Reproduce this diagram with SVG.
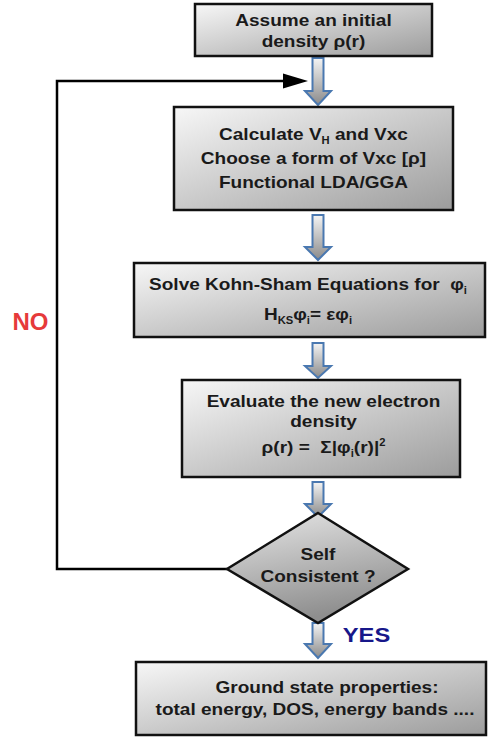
<svg xmlns="http://www.w3.org/2000/svg" width="488" height="738" viewBox="0 0 488 738">
<defs>
<linearGradient id="boxg" x1="0" y1="0" x2="1" y2="1">
<stop offset="0" stop-color="#f7f7f7"/>
<stop offset="1" stop-color="#9c9c9c"/>
</linearGradient>
<linearGradient id="diag" x1="0" y1="0" x2="0.3" y2="1">
<stop offset="0" stop-color="#e6e6e6"/>
<stop offset="1" stop-color="#8e8e8e"/>
</linearGradient>
<linearGradient id="arrg" x1="0" y1="0" x2="0" y2="1">
<stop offset="0" stop-color="#f4f4f4"/>
<stop offset="1" stop-color="#8a8a8a"/>
</linearGradient>
</defs>
<style>
.box{fill:url(#boxg);stroke:#111;stroke-width:2.5}
.dia{fill:url(#diag);stroke:#111;stroke-width:2.5}
.blk{fill:url(#arrg);stroke:#4a78b0;stroke-width:2}
.t{font-family:"Liberation Sans",Arial,sans-serif;font-weight:bold;font-size:17px;fill:#1a1a1a;text-anchor:middle}
.sub{font-size:10px}
.lbl{font-family:"Liberation Sans",Arial,sans-serif;font-weight:bold}
.line{fill:none;stroke:#000;stroke-width:2.5}
</style>

<g id="connectors">
<path class="blk" d="M312.5 58 H323.5 V91 H331 L318 105 L305 91 H312.5 Z"/>
<path class="blk" d="M312.5 215 H323.5 V247 H331 L318 260 L305 247 H312.5 Z"/>
<path class="blk" d="M312.5 343 H323.5 V366 H331 L318 378 L305 366 H312.5 Z"/>
<path class="blk" d="M312.5 482 H323.5 V504 H331 L318 517 L305 504 H312.5 Z"/>
<path class="blk" d="M312.5 623 H323.5 V644 H331 L318 658 L305 644 H312.5 Z"/>
<path class="line" d="M227 569 H57 V81 H284"/>
<path d="M283 73.5 L308 81 L283 88.5 Z" fill="#000"/>
<text class="lbl" x="30.5" y="330" font-size="24" fill="#e63a3a" text-anchor="middle">NO</text>
<text class="lbl" x="366.5" y="642" font-size="21" fill="#17178a" text-anchor="middle" transform="translate(366.5 0) scale(1.13 1) translate(-366.5 0)">YES</text>
</g>

<g id="node-init">
<rect class="box" x="195" y="4" width="237" height="52"/>
<g transform="translate(313.5 0) scale(1.12 1)">
<text class="t" x="0" y="26">Assume an initial</text>
<text class="t" x="0" y="47">density ρ(r)</text>
</g>
</g>

<g id="node-potential">
<rect class="box" x="174" y="107" width="279" height="103"/>
<g transform="translate(313.5 0) scale(1.12 1)">
<text class="t" x="0" y="140">Calculate V<tspan class="sub" dy="4">H</tspan><tspan dy="-4"> and Vxc</tspan></text>
<text class="t" x="0" y="164">Choose a form of Vxc [ρ]</text>
<text class="t" x="0" y="188">Functional LDA/GGA</text>
</g>
</g>

<g id="node-ks">
<rect class="box" x="134" y="263" width="351" height="74"/>
<g transform="translate(308 0) scale(1.12 1)">
<text class="t" x="0" y="290" xml:space="preserve">Solve Kohn-Sham Equations for  φ<tspan class="sub" dy="4">i</tspan></text>
<text class="t" x="0" y="320">H<tspan class="sub" dy="4">KS</tspan><tspan dy="-4">φ</tspan><tspan class="sub" dy="4">i</tspan><tspan dy="-4">= εφ</tspan><tspan class="sub" dy="4">i</tspan></text>
</g>
</g>

<g id="node-density">
<rect class="box" x="182" y="380" width="278" height="97"/>
<g transform="translate(323.5 0) scale(1.12 1)">
<text class="t" x="0" y="407">Evaluate the new electron</text>
<text class="t" x="0" y="427">density</text>
<text class="t" x="0" y="453" xml:space="preserve">ρ(r) =  Σ|φ<tspan class="sub" dy="4">i</tspan><tspan dy="-4">(r)|</tspan><tspan class="sub" dy="-7">2</tspan></text>
</g>
</g>

<g id="node-check">
<polygon class="dia" points="318,513 408,569 318,623 227,569"/>
<g transform="translate(318 0) scale(1.12 1)">
<text class="t" x="0" y="560">Self</text>
<text class="t" x="0" y="582">Consistent ?</text>
</g>
</g>

<g id="node-ground">
<rect class="box" x="136" y="662" width="350" height="73"/>
<text class="t" x="327" y="693" transform="translate(327 0) scale(1.12 1) translate(-327 0)">Ground state properties:</text>
<text class="t" x="315" y="715" transform="translate(315 0) scale(1.12 1) translate(-315 0)">total energy, DOS, energy bands ....</text>
</g>
</svg>
